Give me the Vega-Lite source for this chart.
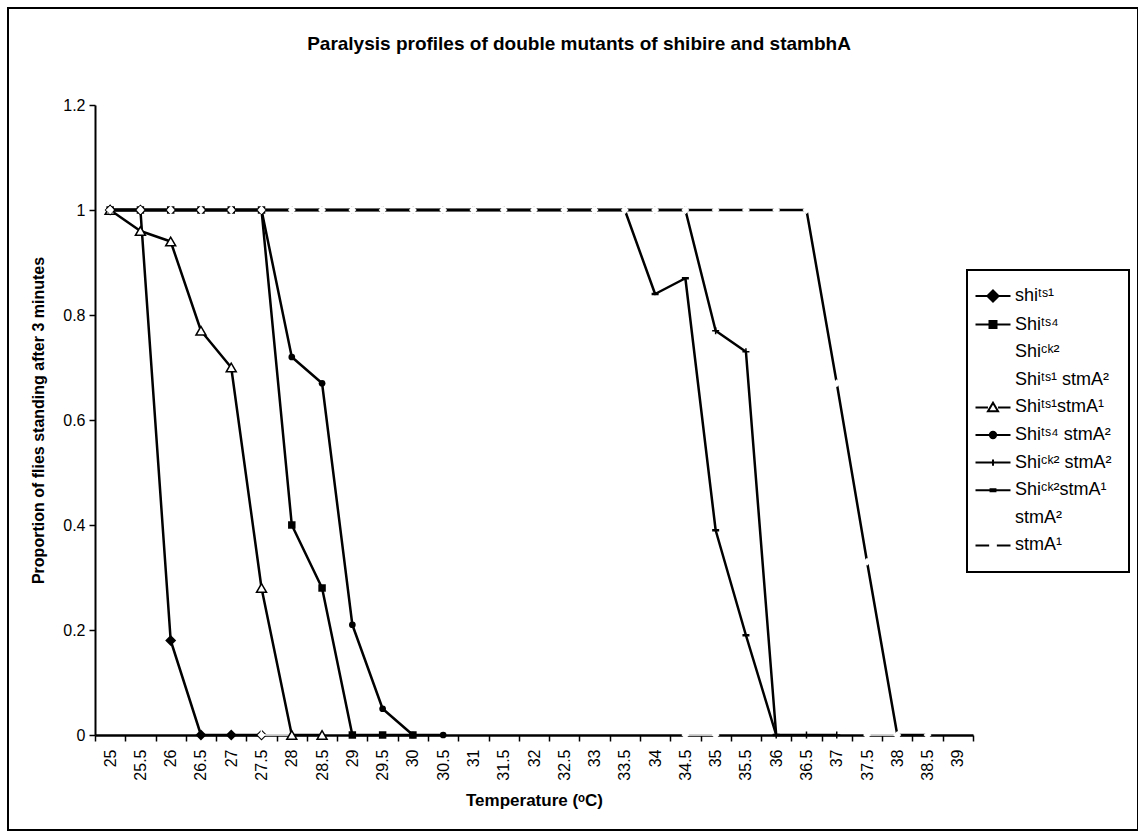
{
  "$schema": "https://vega.github.io/schema/vega-lite/v6.json",
  "width": 1130,
  "height": 822,
  "autosize": {"type": "none"},
  "padding": {"left": 8, "top": 8, "right": 0, "bottom": 2},
  "background": "white",
  "title": {
    "text": "Paralysis profiles of double mutants of shibire and stambhA",
    "font": "Liberation Sans",
    "fontSize": 19,
    "fontWeight": "bold",
    "color": "black",
    "anchor": "middle",
    "frame": "group",
    "dx": 6,
    "offset": -46
  },
  "config": {
    "view": {"stroke": "black", "strokeWidth": 2},
    "axis": {"grid": false},
    "legend": {"strokeWidth": 2}
  },
  "data": {
    "values": [
      {"s": "shiᵗˢ¹", "t": 25, "p": 1}, {"s": "shiᵗˢ¹", "t": 25.5, "p": 1}, {"s": "shiᵗˢ¹", "t": 26, "p": 0.18}, {"s": "shiᵗˢ¹", "t": 26.5, "p": 0}, {"s": "shiᵗˢ¹", "t": 27, "p": 0}, {"s": "shiᵗˢ¹", "t": 27.5, "p": 0},

      {"s": "Shiᵗˢ⁴", "t": 25, "p": 1}, {"s": "Shiᵗˢ⁴", "t": 25.5, "p": 1}, {"s": "Shiᵗˢ⁴", "t": 26, "p": 1}, {"s": "Shiᵗˢ⁴", "t": 26.5, "p": 1}, {"s": "Shiᵗˢ⁴", "t": 27, "p": 1}, {"s": "Shiᵗˢ⁴", "t": 27.5, "p": 1}, {"s": "Shiᵗˢ⁴", "t": 28, "p": 0.4}, {"s": "Shiᵗˢ⁴", "t": 28.5, "p": 0.28}, {"s": "Shiᵗˢ⁴", "t": 29, "p": 0}, {"s": "Shiᵗˢ⁴", "t": 29.5, "p": 0}, {"s": "Shiᵗˢ⁴", "t": 30, "p": 0},

      {"s": "Shiᶜᵏ²", "t": 25, "p": 1}, {"s": "Shiᶜᵏ²", "t": 25.5, "p": 1}, {"s": "Shiᶜᵏ²", "t": 26, "p": 1}, {"s": "Shiᶜᵏ²", "t": 26.5, "p": 1}, {"s": "Shiᶜᵏ²", "t": 27, "p": 1}, {"s": "Shiᶜᵏ²", "t": 27.5, "p": 1}, {"s": "Shiᶜᵏ²", "t": 28, "p": 1}, {"s": "Shiᶜᵏ²", "t": 28.5, "p": 1}, {"s": "Shiᶜᵏ²", "t": 29, "p": 1}, {"s": "Shiᶜᵏ²", "t": 29.5, "p": 1}, {"s": "Shiᶜᵏ²", "t": 30, "p": 1}, {"s": "Shiᶜᵏ²", "t": 30.5, "p": 1}, {"s": "Shiᶜᵏ²", "t": 31, "p": 1}, {"s": "Shiᶜᵏ²", "t": 31.5, "p": 1}, {"s": "Shiᶜᵏ²", "t": 32, "p": 1}, {"s": "Shiᶜᵏ²", "t": 32.5, "p": 1}, {"s": "Shiᶜᵏ²", "t": 33, "p": 1}, {"s": "Shiᶜᵏ²", "t": 33.5, "p": 1}, {"s": "Shiᶜᵏ²", "t": 34, "p": 1}, {"s": "Shiᶜᵏ²", "t": 34.5, "p": 0}, {"s": "Shiᶜᵏ²", "t": 35, "p": 0},

      {"s": "Shiᵗˢ¹ stmA²", "t": 25, "p": 1}, {"s": "Shiᵗˢ¹ stmA²", "t": 25.5, "p": 1}, {"s": "Shiᵗˢ¹ stmA²", "t": 26, "p": 1}, {"s": "Shiᵗˢ¹ stmA²", "t": 26.5, "p": 1}, {"s": "Shiᵗˢ¹ stmA²", "t": 27, "p": 1}, {"s": "Shiᵗˢ¹ stmA²", "t": 27.5, "p": 0}, {"s": "Shiᵗˢ¹ stmA²", "t": 28, "p": 0},

      {"s": "Shiᵗˢ¹stmA¹", "t": 25, "p": 1}, {"s": "Shiᵗˢ¹stmA¹", "t": 25.5, "p": 0.96}, {"s": "Shiᵗˢ¹stmA¹", "t": 26, "p": 0.94}, {"s": "Shiᵗˢ¹stmA¹", "t": 26.5, "p": 0.77}, {"s": "Shiᵗˢ¹stmA¹", "t": 27, "p": 0.7}, {"s": "Shiᵗˢ¹stmA¹", "t": 27.5, "p": 0.28}, {"s": "Shiᵗˢ¹stmA¹", "t": 28, "p": 0}, {"s": "Shiᵗˢ¹stmA¹", "t": 28.5, "p": 0},

      {"s": "Shiᵗˢ⁴ stmA²", "t": 25, "p": 1}, {"s": "Shiᵗˢ⁴ stmA²", "t": 25.5, "p": 1}, {"s": "Shiᵗˢ⁴ stmA²", "t": 26, "p": 1}, {"s": "Shiᵗˢ⁴ stmA²", "t": 26.5, "p": 1}, {"s": "Shiᵗˢ⁴ stmA²", "t": 27, "p": 1}, {"s": "Shiᵗˢ⁴ stmA²", "t": 27.5, "p": 1}, {"s": "Shiᵗˢ⁴ stmA²", "t": 28, "p": 0.72}, {"s": "Shiᵗˢ⁴ stmA²", "t": 28.5, "p": 0.67}, {"s": "Shiᵗˢ⁴ stmA²", "t": 29, "p": 0.21}, {"s": "Shiᵗˢ⁴ stmA²", "t": 29.5, "p": 0.05}, {"s": "Shiᵗˢ⁴ stmA²", "t": 30, "p": 0}, {"s": "Shiᵗˢ⁴ stmA²", "t": 30.5, "p": 0},

      {"s": "Shiᶜᵏ² stmA²", "t": 25, "p": 1}, {"s": "Shiᶜᵏ² stmA²", "t": 25.5, "p": 1}, {"s": "Shiᶜᵏ² stmA²", "t": 26, "p": 1}, {"s": "Shiᶜᵏ² stmA²", "t": 26.5, "p": 1}, {"s": "Shiᶜᵏ² stmA²", "t": 27, "p": 1}, {"s": "Shiᶜᵏ² stmA²", "t": 27.5, "p": 1}, {"s": "Shiᶜᵏ² stmA²", "t": 28, "p": 1}, {"s": "Shiᶜᵏ² stmA²", "t": 28.5, "p": 1}, {"s": "Shiᶜᵏ² stmA²", "t": 29, "p": 1}, {"s": "Shiᶜᵏ² stmA²", "t": 29.5, "p": 1}, {"s": "Shiᶜᵏ² stmA²", "t": 30, "p": 1}, {"s": "Shiᶜᵏ² stmA²", "t": 30.5, "p": 1}, {"s": "Shiᶜᵏ² stmA²", "t": 31, "p": 1}, {"s": "Shiᶜᵏ² stmA²", "t": 31.5, "p": 1}, {"s": "Shiᶜᵏ² stmA²", "t": 32, "p": 1}, {"s": "Shiᶜᵏ² stmA²", "t": 32.5, "p": 1}, {"s": "Shiᶜᵏ² stmA²", "t": 33, "p": 1}, {"s": "Shiᶜᵏ² stmA²", "t": 33.5, "p": 1}, {"s": "Shiᶜᵏ² stmA²", "t": 34, "p": 1}, {"s": "Shiᶜᵏ² stmA²", "t": 34.5, "p": 1}, {"s": "Shiᶜᵏ² stmA²", "t": 35, "p": 0.77}, {"s": "Shiᶜᵏ² stmA²", "t": 35.5, "p": 0.73}, {"s": "Shiᶜᵏ² stmA²", "t": 36, "p": 0}, {"s": "Shiᶜᵏ² stmA²", "t": 36.5, "p": 0}, {"s": "Shiᶜᵏ² stmA²", "t": 37, "p": 0},

      {"s": "Shiᶜᵏ²stmA¹", "t": 25, "p": 1}, {"s": "Shiᶜᵏ²stmA¹", "t": 25.5, "p": 1}, {"s": "Shiᶜᵏ²stmA¹", "t": 26, "p": 1}, {"s": "Shiᶜᵏ²stmA¹", "t": 26.5, "p": 1}, {"s": "Shiᶜᵏ²stmA¹", "t": 27, "p": 1}, {"s": "Shiᶜᵏ²stmA¹", "t": 27.5, "p": 1}, {"s": "Shiᶜᵏ²stmA¹", "t": 28, "p": 1}, {"s": "Shiᶜᵏ²stmA¹", "t": 28.5, "p": 1}, {"s": "Shiᶜᵏ²stmA¹", "t": 29, "p": 1}, {"s": "Shiᶜᵏ²stmA¹", "t": 29.5, "p": 1}, {"s": "Shiᶜᵏ²stmA¹", "t": 30, "p": 1}, {"s": "Shiᶜᵏ²stmA¹", "t": 30.5, "p": 1}, {"s": "Shiᶜᵏ²stmA¹", "t": 31, "p": 1}, {"s": "Shiᶜᵏ²stmA¹", "t": 31.5, "p": 1}, {"s": "Shiᶜᵏ²stmA¹", "t": 32, "p": 1}, {"s": "Shiᶜᵏ²stmA¹", "t": 32.5, "p": 1}, {"s": "Shiᶜᵏ²stmA¹", "t": 33, "p": 1}, {"s": "Shiᶜᵏ²stmA¹", "t": 33.5, "p": 1}, {"s": "Shiᶜᵏ²stmA¹", "t": 34, "p": 0.84}, {"s": "Shiᶜᵏ²stmA¹", "t": 34.5, "p": 0.87}, {"s": "Shiᶜᵏ²stmA¹", "t": 35, "p": 0.39}, {"s": "Shiᶜᵏ²stmA¹", "t": 35.5, "p": 0.19}, {"s": "Shiᶜᵏ²stmA¹", "t": 36, "p": 0},

      {"s": "stmA²", "t": 25, "p": 1}, {"s": "stmA²", "t": 25.5, "p": 1}, {"s": "stmA²", "t": 26, "p": 1}, {"s": "stmA²", "t": 26.5, "p": 1}, {"s": "stmA²", "t": 27, "p": 1}, {"s": "stmA²", "t": 27.5, "p": 1}, {"s": "stmA²", "t": 28, "p": 1}, {"s": "stmA²", "t": 28.5, "p": 1}, {"s": "stmA²", "t": 29, "p": 1}, {"s": "stmA²", "t": 29.5, "p": 1}, {"s": "stmA²", "t": 30, "p": 1}, {"s": "stmA²", "t": 30.5, "p": 1}, {"s": "stmA²", "t": 31, "p": 1}, {"s": "stmA²", "t": 31.5, "p": 1}, {"s": "stmA²", "t": 32, "p": 1}, {"s": "stmA²", "t": 32.5, "p": 1}, {"s": "stmA²", "t": 33, "p": 1}, {"s": "stmA²", "t": 33.5, "p": 1}, {"s": "stmA²", "t": 34, "p": 1}, {"s": "stmA²", "t": 34.5, "p": 1}, {"s": "stmA²", "t": 35, "p": 1}, {"s": "stmA²", "t": 35.5, "p": 1}, {"s": "stmA²", "t": 36, "p": 1}, {"s": "stmA²", "t": 36.5, "p": 1}, {"s": "stmA²", "t": 37, "p": 1}, {"s": "stmA²", "t": 37.5, "p": 0}, {"s": "stmA²", "t": 38, "p": 0},

      {"s": "stmA¹", "t": 25, "p": 1}, {"s": "stmA¹", "t": 25.5, "p": 1}, {"s": "stmA¹", "t": 26, "p": 1}, {"s": "stmA¹", "t": 26.5, "p": 1}, {"s": "stmA¹", "t": 27, "p": 1}, {"s": "stmA¹", "t": 27.5, "p": 1}, {"s": "stmA¹", "t": 28, "p": 1}, {"s": "stmA¹", "t": 28.5, "p": 1}, {"s": "stmA¹", "t": 29, "p": 1}, {"s": "stmA¹", "t": 29.5, "p": 1}, {"s": "stmA¹", "t": 30, "p": 1}, {"s": "stmA¹", "t": 30.5, "p": 1}, {"s": "stmA¹", "t": 31, "p": 1}, {"s": "stmA¹", "t": 31.5, "p": 1}, {"s": "stmA¹", "t": 32, "p": 1}, {"s": "stmA¹", "t": 32.5, "p": 1}, {"s": "stmA¹", "t": 33, "p": 1}, {"s": "stmA¹", "t": 33.5, "p": 1}, {"s": "stmA¹", "t": 34, "p": 1}, {"s": "stmA¹", "t": 34.5, "p": 1}, {"s": "stmA¹", "t": 35, "p": 1}, {"s": "stmA¹", "t": 35.5, "p": 1}, {"s": "stmA¹", "t": 36, "p": 1}, {"s": "stmA¹", "t": 36.5, "p": 1}, {"s": "stmA¹", "t": 37, "p": 0.67}, {"s": "stmA¹", "t": 37.5, "p": 0.33}, {"s": "stmA¹", "t": 38, "p": 0}, {"s": "stmA¹", "t": 38.5, "p": 0}
    ]
  },
  "encoding": {
    "x": {
      "field": "t",
      "type": "ordinal",
      "bandPosition": 0.5,
      "scale": {
        "type": "band",
        "domain": [25, 25.5, 26, 26.5, 27, 27.5, 28, 28.5, 29, 29.5, 30, 30.5, 31, 31.5, 32, 32.5, 33, 33.5, 34, 34.5, 35, 35.5, 36, 36.5, 37, 37.5, 38, 38.5, 39],
        "range": [87, 965],
        "paddingInner": 0,
        "paddingOuter": 0
      },
      "axis": {
        "title": "Temperature (ᵒC)",
        "offset": -95,
        "zindex": 0,
        "tickBand": "extent",
        "domainColor": "black",
        "domainWidth": 2.5,
        "tickColor": "black",
        "tickWidth": 1.5,
        "tickSize": 6,
        "labelAngle": -90,
        "labelFont": "Liberation Sans",
        "labelFontSize": 16,
        "labelColor": "black",
        "labelPadding": 8,
        "titleFont": "Liberation Sans",
        "titleFontSize": 17,
        "titleFontWeight": "bold",
        "titleColor": "black",
        "titlePadding": 12
      }
    },
    "y": {
      "field": "p",
      "type": "quantitative",
      "scale": {"domain": [0, 1.2], "range": [727, 97], "nice": false},
      "axis": {
        "title": "Proportion of flies standing after 3 minutes",
        "offset": -87,
        "zindex": 0,
        "values": [0, 0.2, 0.4, 0.6, 0.8, 1, 1.2],
        "format": "~g",
        "domainColor": "black",
        "domainWidth": 2,
        "tickColor": "black",
        "tickWidth": 1.5,
        "tickSize": 6,
        "labelFont": "Liberation Sans",
        "labelFontSize": 16,
        "labelColor": "black",
        "labelPadding": 4,
        "titleFont": "Liberation Sans",
        "titleFontSize": 16,
        "titleFontWeight": "bold",
        "titleColor": "black",
        "titlePadding": 16
      }
    }
  },
  "layer": [
    {
      "transform": [{"filter": {"field": "s", "oneOf": ["shiᵗˢ¹", "Shiᵗˢ⁴"]}}],
      "mark": {"type": "line", "color": "black", "strokeWidth": 2.5, "strokeJoin": "round"},
      "encoding": {"detail": {"field": "s"}}
    },
    {
      "transform": [{"filter": {"field": "s", "equal": "shiᵗˢ¹"}}],
      "mark": {"type": "point", "shape": "diamond", "size": 121, "filled": true, "color": "black", "opacity": 1}
    },
    {
      "transform": [{"filter": {"field": "s", "equal": "Shiᵗˢ⁴"}}],
      "mark": {"type": "point", "shape": "square", "size": 56, "filled": true, "color": "black", "opacity": 1}
    },
    {
      "transform": [{"filter": {"field": "s", "oneOf": ["Shiᶜᵏ²", "Shiᵗˢ¹ stmA²"]}}],
      "mark": {"type": "line", "color": "white", "strokeWidth": 1.4, "strokeJoin": "round"},
      "encoding": {"detail": {"field": "s"}}
    },
    {
      "transform": [{"filter": {"field": "s", "oneOf": ["Shiᶜᵏ²", "Shiᵗˢ¹ stmA²"]}}],
      "mark": {"type": "point", "shape": "diamond", "size": 64, "filled": true, "color": "white", "opacity": 1}
    },
    {
      "transform": [{"filter": {"field": "s", "oneOf": ["Shiᵗˢ¹stmA¹", "Shiᵗˢ⁴ stmA²", "Shiᶜᵏ² stmA²", "Shiᶜᵏ²stmA¹"]}}],
      "mark": {"type": "line", "color": "black", "strokeWidth": 2.5, "strokeJoin": "round"},
      "encoding": {"detail": {"field": "s"}}
    },
    {
      "transform": [{"filter": {"field": "s", "equal": "Shiᵗˢ¹stmA¹"}}],
      "mark": {"type": "point", "shape": "triangle-up", "size": 100, "filled": true, "fill": "white", "stroke": "black", "strokeWidth": 1.5, "opacity": 1}
    },
    {
      "transform": [{"filter": {"field": "s", "equal": "Shiᵗˢ⁴ stmA²"}}],
      "mark": {"type": "point", "shape": "circle", "size": 45, "filled": true, "color": "black", "opacity": 1}
    },
    {
      "transform": [{"filter": {"field": "s", "equal": "Shiᶜᵏ² stmA²"}}],
      "mark": {"type": "point", "shape": "M-1,0H1M0,-1V1", "size": 49, "filled": false, "color": "black", "strokeWidth": 1.5, "opacity": 1}
    },
    {
      "transform": [{"filter": {"field": "s", "equal": "Shiᶜᵏ²stmA¹"}}],
      "mark": {"type": "point", "shape": "M-1,0H1", "size": 49, "filled": false, "color": "black", "strokeWidth": 2.5, "opacity": 1}
    },
    {
      "transform": [{"filter": {"field": "s", "equal": "stmA²"}}],
      "mark": {"type": "line", "color": "white", "strokeWidth": 1.4, "strokeJoin": "round"}
    },
    {
      "transform": [{"filter": {"field": "s", "equal": "stmA²"}}],
      "mark": {"type": "point", "shape": "diamond", "size": 64, "filled": true, "color": "white", "opacity": 1}
    },
    {
      "transform": [{"filter": {"field": "s", "equal": "stmA¹"}}],
      "mark": {"type": "line", "color": "black", "strokeWidth": 2.5, "strokeJoin": "round"}
    },
    {
      "transform": [{"filter": {"field": "s", "equal": "stmA¹"}}],
      "mark": {"type": "point", "shape": "diamond", "size": 64, "filled": true, "color": "white", "opacity": 1}
    },
    {
      "transform": [{"filter": "false"}],
      "mark": {"type": "point", "size": 196, "opacity": 1, "strokeWidth": 2},
      "encoding": {
        "shape": {
          "field": "s",
          "type": "nominal",
          "scale": {
            "domain": ["shiᵗˢ¹", "Shiᵗˢ⁴", "Shiᶜᵏ²", "Shiᵗˢ¹ stmA²", "Shiᵗˢ¹stmA¹", "Shiᵗˢ⁴ stmA²", "Shiᶜᵏ² stmA²", "Shiᶜᵏ²stmA¹", "stmA²", "stmA¹"],
            "range": [
              "M-2.5,0H2.5M0,-0.8L0.8,0L0,0.8L-0.8,0Z",
              "M-2.5,0H2.5M-0.5,-0.5H0.5V0.5H-0.5Z",
              "M-2.5,0H2.5",
              "M-2.5,0H2.5",
              "M-2.5,0H-0.72M0.72,0H2.5M0,-0.68L0.72,0.56H-0.72Z",
              "M-2.5,0H2.5M-0.45,0A0.45,0.45 0 1,0 0.45,0A0.45,0.45 0 1,0 -0.45,0Z",
              "M-2.5,0H2.5M0,-0.45V0.45",
              "M-2.5,0H2.5M-0.35,-0.14H0.35V0.14H-0.35Z",
              "M-2.5,0H2.5",
              "M-2.5,0H-0.55M0.55,0H2.5"
            ]
          },
          "legend": {
            "title": null, "orient": "none", "legendX": 959, "legendY": 262, "padding": 17,
            "strokeColor": "black", "fillColor": "white",
            "labelFont": "Liberation Sans", "labelFontSize": 18, "labelColor": "black",
            "labelOffset": 13, "labelLimit": 300, "rowPadding": 9.6,
            "symbolSize": 196, "symbolStrokeWidth": 2
          }
        },
        "fill": {
          "field": "s",
          "type": "nominal",
          "scale": {
            "domain": ["shiᵗˢ¹", "Shiᵗˢ⁴", "Shiᶜᵏ²", "Shiᵗˢ¹ stmA²", "Shiᵗˢ¹stmA¹", "Shiᵗˢ⁴ stmA²", "Shiᶜᵏ² stmA²", "Shiᶜᵏ²stmA¹", "stmA²", "stmA¹"],
            "range": ["black", "black", "transparent", "transparent", "white", "black", "transparent", "black", "transparent", "transparent"]
          },
          "legend": {
            "title": null, "orient": "none", "legendX": 959, "legendY": 262, "padding": 17,
            "strokeColor": "black", "fillColor": "white",
            "labelFont": "Liberation Sans", "labelFontSize": 18, "labelColor": "black",
            "labelOffset": 13, "labelLimit": 300, "rowPadding": 9.6,
            "symbolSize": 196, "symbolStrokeWidth": 2
          }
        },
        "stroke": {
          "field": "s",
          "type": "nominal",
          "scale": {
            "domain": ["shiᵗˢ¹", "Shiᵗˢ⁴", "Shiᶜᵏ²", "Shiᵗˢ¹ stmA²", "Shiᵗˢ¹stmA¹", "Shiᵗˢ⁴ stmA²", "Shiᶜᵏ² stmA²", "Shiᶜᵏ²stmA¹", "stmA²", "stmA¹"],
            "range": ["black", "black", "transparent", "transparent", "black", "black", "black", "black", "transparent", "black"]
          },
          "legend": {
            "title": null, "orient": "none", "legendX": 959, "legendY": 262, "padding": 17,
            "strokeColor": "black", "fillColor": "white",
            "labelFont": "Liberation Sans", "labelFontSize": 18, "labelColor": "black",
            "labelOffset": 13, "labelLimit": 300, "rowPadding": 9.6,
            "symbolSize": 196, "symbolStrokeWidth": 2
          }
        }
      }
    }
  ]
}
